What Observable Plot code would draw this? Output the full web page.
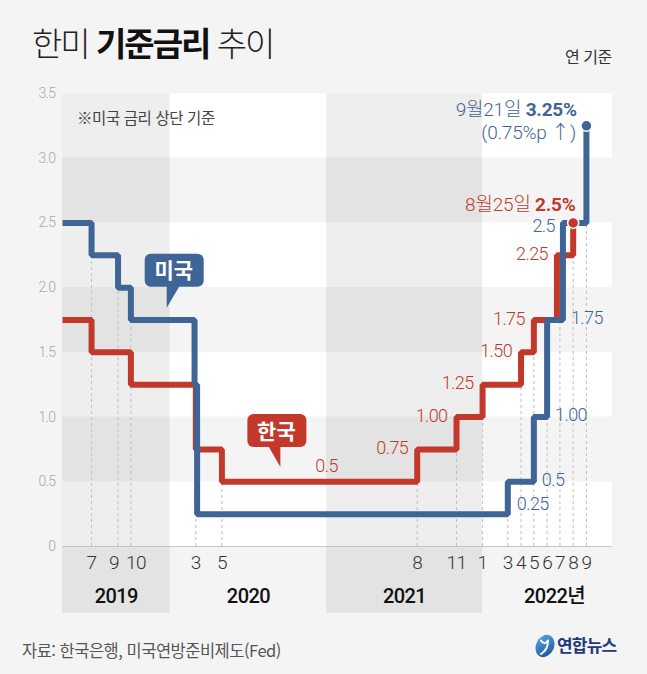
<!DOCTYPE html>
<html lang="ko">
<head>
<meta charset="utf-8">
<script src="https://cdn.jsdelivr.net/npm/d3@7"></script>
<script src="https://cdn.jsdelivr.net/npm/@observablehq/plot@0.6"></script>
<style>
  html, body { margin: 0; padding: 0; background: #f4f4f4; }
  #wrap { position: relative; width: 647px; height: 674px; overflow: hidden; background: #f4f4f4; }
  #chart { position: absolute; left: 0; top: 0; }
  #chart text { letter-spacing: -0.6px; }
  #chart text.rich { letter-spacing: -0.2px; }
  .title { position: absolute; left: 32px; top: 26px; font-family: "Noto Sans CJK KR", sans-serif; font-size: 33px; font-weight: 300; color: #222; letter-spacing: -2px; line-height: 1; white-space: nowrap; }
  .title b { font-weight: 700; color: #111; }
  .unit { position: absolute; left: 565px; top: 44px; font-family: "Noto Sans CJK KR", sans-serif; font-size: 16px; color: #333; letter-spacing: -0.5px; white-space: nowrap; }
  .note { position: absolute; left: 77px; top: 106px; font-family: "Noto Sans CJK KR", sans-serif; font-size: 15.5px; color: #444; letter-spacing: -0.4px; white-space: nowrap; }
  .source { position: absolute; left: 22px; top: 638px; font-family: "Noto Sans CJK KR", sans-serif; font-size: 16.5px; color: #555; letter-spacing: -0.5px; white-space: nowrap; }
  .logo { position: absolute; left: 533px; top: 632px; }
</style>
</head>
<body>
<div id="wrap">
  <div id="chart"></div>
  <div class="title">한미 <b>기준금리</b> 추이</div>
  <div class="unit">연 기준</div>
  <div class="note">※미국 금리 상단 기준</div>
  <div class="source">자료: 한국은행, 미국연방준비제도(Fed)</div>
  <svg class="logo" width="95" height="30" viewBox="0 0 95 30">
    <defs>
      <linearGradient id="yna" x1="0" y1="0" x2="1" y2="1">
        <stop offset="0" stop-color="#55aee6"/>
        <stop offset="1" stop-color="#1b4c9a"/>
      </linearGradient>
    </defs>
    <ellipse cx="12" cy="14" rx="9" ry="11.5" transform="rotate(25 12 14)" fill="url(#yna)"/>
    <path d="M8 8.5 C 10 12, 13 12, 15 8.5 M15 8.5 C 15 14, 13 19, 8 22" fill="none" stroke="#fff" stroke-width="2" stroke-linecap="round"/>
    <text x="24" y="20" font-family="Noto Sans CJK KR, sans-serif" font-weight="700" font-size="17" letter-spacing="-0.8" fill="#22397a">연합뉴스</text>
  </svg>
</div>
<script>
// 한국 기준금리: 변경 시점과 금리(%)
const krDates = ["2019-04-24", "2019-07-01", "2019-10-01", "2020-03-01", "2020-05-01", "2021-08-01",
                 "2021-11-01", "2022-01-01", "2022-04-01", "2022-05-01", "2022-06-24", "2022-08-01"];
const krRates = [1.75, 1.5, 1.25, 0.75, 0.5, 0.75, 1.0, 1.25, 1.5, 1.75, 2.25, 2.5];
// 값 표기 자릿수 (null = 표기 없음)
const krDigits = [null, null, null, null, 1, 2, 2, 2, 2, 2, 2, null];
const krLastDay = "8월25일";

// 미국 기준금리(상단): 변경 시점과 금리(%)
const usDates = ["2019-04-24", "2019-07-01", "2019-09-01", "2019-10-01", "2020-02-27", "2020-03-04",
                 "2022-03-01", "2022-05-01", "2022-06-01", "2022-07-08", "2022-09-01"];
const usRates = [2.5, 2.25, 2.0, 1.75, 1.25, 0.25, 0.5, 1.0, 1.75, 2.5, 3.25];
const usDigits = [null, null, null, null, null, 2, 1, 2, 2, 1, null];
const usLastDay = "9월21일";

// 가로축 월 눈금과 연도
const tickMonths = ["2019-07", "2019-09", "2019-10", "2020-03", "2020-05", "2021-08", "2021-11",
                    "2022-01", "2022-03", "2022-04", "2022-05", "2022-06", "2022-07", "2022-08", "2022-09"];
const tickLabels = ["7", "9", "10", "3", "5", "8", "11", "1", "3", "4", "5", "6", "7", "8", "9"];
const yearLabels = ["2019", "2020", "2021", "2022년"];
const yearStarts = ["2019-01-01", "2020-01-01", "2021-01-01", "2022-01-01", "2023-01-01"];

// 세로축 눈금
const yTicks = [0, 0.5, 1.0, 1.5, 2.0, 2.5, 3.0, 3.5];

const RED = "#c2392b";
const BLUE = "#3f6596";
const FONT = "Roboto, 'Noto Sans CJK KR', sans-serif";

const day = d3.utcParse("%Y-%m-%d");
const month = d3.utcParse("%Y-%m");

const korea = krDates.map((d, i) => ({date: day(d), rate: krRates[i], digits: krDigits[i]}));
const us = usDates.map((d, i) => ({date: day(d), rate: usRates[i], digits: usDigits[i]}));

const start = korea[0].date;
const end = day("2022-11-01");

// 연도 구간 (그래프 범위로 자름)
const years = yearLabels.map((label, i) => {
  const x1 = new Date(Math.max(+day(yearStarts[i]), +start));
  const x2 = new Date(Math.min(+day(yearStarts[i + 1]), +end));
  return {label, x1, x2, mid: new Date((+x1 + +x2) / 2), shaded: i % 2 === 0};
});

// 흰색 가로 띠
const rows = yTicks.filter((v, i) => i % 2 === 0 && v < 3.5).map(v => ({y1: v, y2: v + 0.5}));

// 금리 변경 지점: 해당 월 눈금까지 점선을 올린다
function changes(series) {
  return series.slice(1).map((p, i) => ({month: +d3.utcMonth.round(p.date), low: Math.min(p.rate, series[i].rate)}));
}
const allChanges = [...changes(korea), ...changes(us)];
const ticks = tickMonths.map((m, i) => {
  const date = month(m);
  const hits = allChanges.filter(c => c.month === +date);
  return {date, key: m, label: tickLabels[i], top: hits.length ? d3.max(hits, c => c.low) : 0};
});

// 값 표기
const krRiserLabels = korea
  .map((p, i) => ({...p, i}))
  .filter(p => p.digits != null && p.i >= 5)
  .map(p => ({date: p.date, rate: p.rate, text: p.rate.toFixed(p.digits)}));
const krFlat = korea[4];
const krFlatLabel = [{date: new Date((+korea[4].date + +korea[5].date) / 2), rate: krFlat.rate, text: krFlat.rate.toFixed(krFlat.digits)}];

const usRightLabels = us
  .map((p, i) => ({...p, i}))
  .filter(p => p.digits != null && p.i < us.length - 2)
  .map(p => ({date: us[p.i + 1].date, rate: p.rate, text: p.rate.toFixed(p.digits)}));
const usLow = usRightLabels.slice(0, 1);
const usMid = usRightLabels.slice(1);
const usPrev = us[us.length - 2];
const usPrevLabel = [{date: usPrev.date, rate: usPrev.rate, text: usPrev.rate.toFixed(usPrev.digits)}];

const krLast = korea[korea.length - 1];
const usLast = us[us.length - 1];
const usStep = usLast.rate - usPrev.rate;

const labelStyle = {fontSize: 18, fontFamily: FONT, fontWeight: 300};

// 말풍선 (꼬리 끝이 기준점)
function bubble(date, value, text, fill, box, tail, textAt) {
  return (index, scales) => {
    const g = d3.create("svg:g")
      .attr("transform", `translate(${scales.x(date)},${scales.y(value)})`);
    g.append("rect")
      .attr("x", box[0]).attr("y", box[1]).attr("width", box[2]).attr("height", box[3])
      .attr("rx", 6).attr("fill", fill);
    g.append("path").attr("d", "M" + tail.map(p => p.join(",")).join("L") + "Z").attr("fill", fill);
    g.append("text")
      .attr("x", textAt[0]).attr("y", textAt[1]).attr("dy", "0.36em")
      .attr("text-anchor", "middle")
      .attr("fill", "white").attr("font-size", 21).attr("font-weight", 700)
      .attr("font-family", "'Noto Sans CJK KR', sans-serif")
      .style("letter-spacing", "0px")
      .text(text);
    return g.node();
  };
}

// 굵은 글씨가 섞인 끝값 표기
function richNote(point, pieces, color, dx, dy) {
  return (index, scales) => {
    const t = d3.create("svg:text")
      .attr("class", "rich")
      .attr("x", scales.x(point.date) + dx).attr("y", scales.y(point.rate) + dy).attr("dy", "0.36em")
      .attr("text-anchor", "end").attr("fill", color)
      .attr("font-size", 19).attr("font-family", FONT);
    for (const [s, w] of pieces) t.append("tspan").attr("font-weight", w).text(s);
    return t.node();
  };
}

const monthText = {x: "date", y: () => 0, text: "label", dy: 16, fontSize: 19, fill: "#333", fontWeight: 300};

const chart = Plot.plot({
  width: 647,
  height: 674,
  marginTop: 93,
  marginBottom: 128,
  marginLeft: 62,
  marginRight: 35,
  style: {background: "none", fontFamily: FONT, overflow: "visible"},
  x: {type: "utc", domain: [start, end], axis: null},
  y: {domain: [0, 3.5], axis: null},
  marks: [
    Plot.rect(rows, {x1: () => start, x2: () => end, y1: "y1", y2: "y2", fill: "white"}),
    Plot.rect(years.filter(d => d.shaded), {x1: "x1", x2: "x2", y1: () => 0, y2: () => 3.5, fill: "black", fillOpacity: 0.065, insetBottom: -67}),
    Plot.text(yTicks, {y: d => d, frameAnchor: "left", textAnchor: "end", dx: -7, text: d => d === 0 ? "0" : d.toFixed(1), fill: "#a8a8a8", fontSize: 14, fontWeight: 300}),
    Plot.ruleY([0], {stroke: "#c6c6c6", strokeWidth: 1.2}),
    Plot.ruleX(ticks, {x: "date", y1: () => 0, y2: "top", stroke: "#bdbdbd", strokeWidth: 1, strokeDasharray: "3,3"}),

    // 월 표기
    Plot.text(ticks.filter(t => t.key !== "2019-09" && t.key !== "2019-10"), monthText),
    Plot.text(ticks.filter(t => t.key === "2019-09"), {...monthText, dx: -4}),
    Plot.text(ticks.filter(t => t.key === "2019-10"), {...monthText, dx: 5}),
    // 연도 표기
    Plot.text(years.slice(0, 3), {x: "mid", y: () => 0, text: "label", dy: 50, fontSize: 20, fontWeight: 500, fill: "#111"}),
    Plot.text(years.slice(3), {x: "mid", y: () => 0, text: "label", dy: 50, dx: 7, fontSize: 20, fontWeight: 500, fill: "#111"}),

    // 금리 선
    Plot.line(korea, {x: "date", y: "rate", curve: "step-after", stroke: RED, strokeWidth: 6, strokeLinejoin: "miter", strokeLinecap: "butt"}),
    Plot.line(us, {x: "date", y: "rate", curve: "step-after", stroke: BLUE, strokeWidth: 6, strokeLinejoin: "miter", strokeLinecap: "butt"}),
    Plot.dot([usLast], {x: "date", y: "rate", r: 5.5, fill: BLUE, stroke: "white", strokeWidth: 1.5}),
    Plot.dot([krLast], {x: "date", y: "rate", r: 5.5, fill: RED, stroke: "white", strokeWidth: 1.5}),

    // 한국 값 표기
    Plot.text(krRiserLabels, {x: "date", y: "rate", text: "text", textAnchor: "end", dx: -9, dy: -1, fill: RED, ...labelStyle}),
    Plot.text(krFlatLabel, {x: "date", y: "rate", text: "text", dx: 7, dy: -16, fill: RED, ...labelStyle}),
    // 미국 값 표기
    Plot.text(usLow, {x: "date", y: "rate", text: "text", textAnchor: "start", dx: 9, dy: -10, fill: BLUE, ...labelStyle}),
    Plot.text(usMid, {x: "date", y: "rate", text: "text", textAnchor: "start", dx: 8, dy: -2, fill: BLUE, ...labelStyle}),
    Plot.text(usPrevLabel, {x: "date", y: "rate", text: "text", textAnchor: "end", dx: -8, dy: 3, fill: BLUE, ...labelStyle}),

    richNote(krLast, [[krLastDay + " ", 300], [krLast.rate + "%", 700]], RED, 3, -18),
    richNote(usLast, [[usLastDay + " ", 300], [usLast.rate + "%", 700]], BLUE, -9, -16),
    richNote(usLast, [["(" + usStep.toFixed(2) + "%p ↑)", 300]], BLUE, -10, 7),

    // 말풍선
    bubble(day("2019-12-25"), 1.84, "미국", BLUE, [-22, -54, 59, 33], [[0, -22], [13, -22], [0, 0]], [7, -37]),
    bubble(day("2020-09-16"), 0.61, "한국", RED, [-33, -53, 59, 33], [[-12, -21], [0, -21], [0, 0]], [-4, -36])
  ]
});

document.getElementById("chart").append(chart);
</script>
</body>
</html>
